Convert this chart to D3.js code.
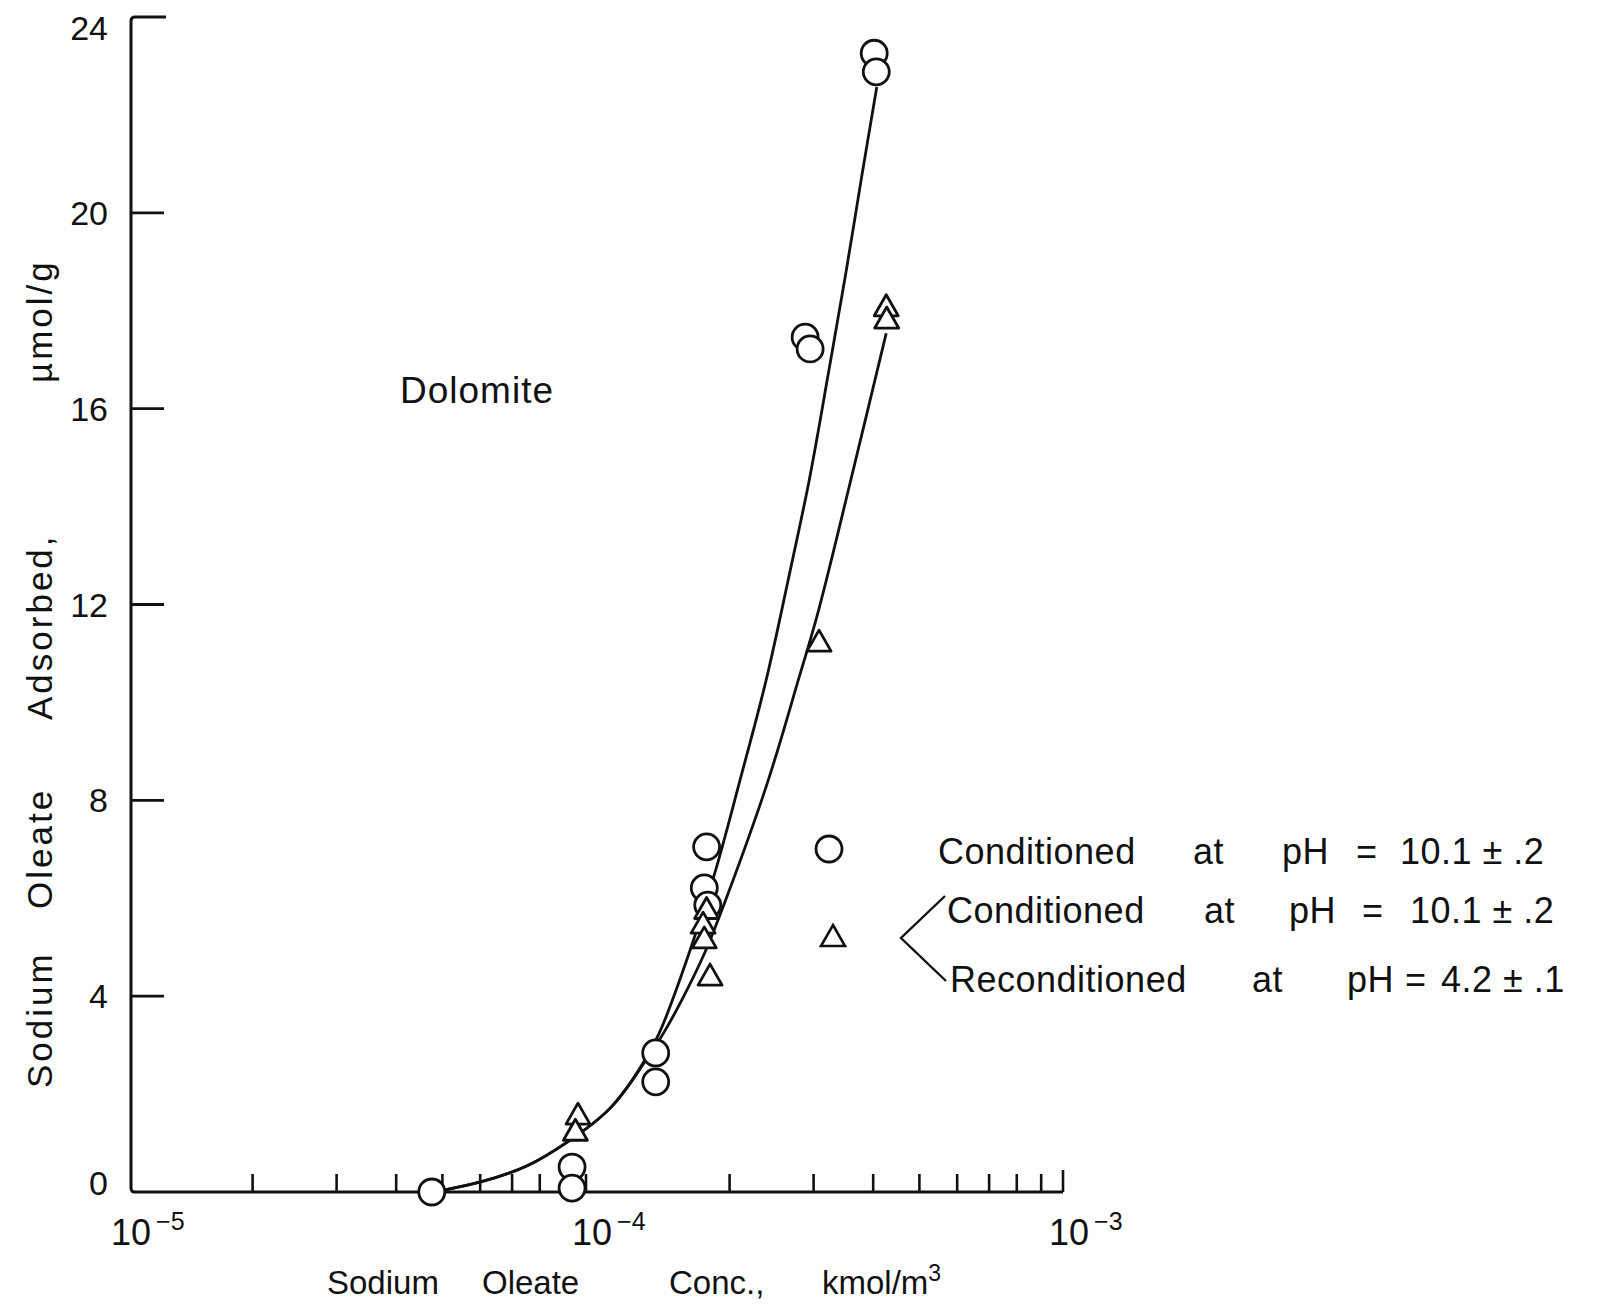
<!DOCTYPE html>
<html>
<head>
<meta charset="utf-8">
<script src="https://cdn.jsdelivr.net/npm/d3@7"></script>
<style>
  body { margin: 0; background: #fff; }
  text { font-family: "Liberation Sans", Arial, sans-serif; fill: #111; }
</style>
</head>
<body>
<script>
// sodium oleate adsorption on dolomite

// circles: conditioned at pH 10.1
var circleConc = [4.75e-5, 9.35e-5, 9.35e-5, 1.40e-4, 1.40e-4, 1.79e-4, 1.77e-4, 1.80e-4, 2.88e-4, 2.95e-4, 4.02e-4, 4.06e-4];
var circleAds  = [0, 0.51, 0.08, 2.84, 2.25, 7.05, 6.21, 5.86, 17.46, 17.22, 23.26, 22.88];

// triangles: conditioned 10.1 then reconditioned 4.2
var triConc = [9.62e-5, 9.5e-5, 1.79e-4, 1.76e-4, 1.77e-4, 1.82e-4, 3.08e-4, 4.26e-4, 4.27e-4];
var triAds  = [1.55, 1.22, 5.75, 5.45, 5.15, 4.39, 11.21, 18.06, 17.81];

// hand drawn fit lines
var fitCircleConc = [4.8e-5, 6.0e-5, 7.6e-5, 9.1e-5, 1.14e-4, 1.32e-4, 1.43e-4, 1.51e-4, 1.65e-4, 1.88e-4, 2.1e-4, 2.4e-4, 2.65e-4, 2.95e-4, 3.2e-4, 3.52e-4, 3.75e-4, 4.07e-4];
var fitCircleAds  = [0, 0.18, 0.51, 1.0, 1.67, 2.63, 3.25, 3.85, 4.9, 6.58, 8.41, 10.46, 12.5, 14.54, 16.58, 18.83, 20.53, 22.57];
var fitTriConc = [4.8e-5, 6.0e-5, 7.6e-5, 9.1e-5, 1.14e-4, 1.32e-4, 1.45e-4, 1.59e-4, 1.78e-4, 1.94e-4, 2.43e-4, 2.78e-4, 3.05e-4, 3.52e-4, 3.88e-4, 4.26e-4];
var fitTriAds  = [0, 0.18, 0.51, 1.0, 1.67, 2.63, 3.2, 3.92, 4.88, 5.82, 8.41, 10.46, 11.68, 14.2, 15.9, 17.54];

var yTicks = [0, 4, 8, 12, 16, 20, 24];
var xMajor = [1e-5, 1e-4, 1e-3];
var xMajorExp = ["-5", "-4", "-3"];

var xTitleWords = ["Sodium", "Oleate", "Conc.,", "kmol/m"];
var yTitleWords = ["Sodium", "Oleate", "Adsorbed,", "\u00b5mol/g"];
var legendLines = [
  ["Conditioned", "at", "pH", "=", "10.1 \u00b1 .2"],
  ["Conditioned", "at", "pH", "=", "10.1 \u00b1 .2"],
  ["Reconditioned", "at", "pH", "=", "4.2 \u00b1 .1"]
];

var W = 1602, H = 1306;
var svg = d3.select("body").append("svg")
  .attr("width", W).attr("height", H);

var x = d3.scaleLog().domain([1e-5, 1e-3]).range([109, 1063]);
var y = d3.scaleLinear().domain([0, 24]).range([1192, 17]);
var axisX = 131;
var ink = "#111";

// axes
svg.append("path")
  .attr("d", "M" + (axisX + 35) + "," + y(24) + "H" + (axisX + 4) + "Q" + axisX + "," + y(24) + " " + axisX + "," + (y(24) + 4)
    + "V" + (y(0) - 4) + "Q" + axisX + "," + y(0) + " " + (axisX + 4) + "," + y(0) + "H" + x(1e-3))
  .attr("fill", "none").attr("stroke", ink).attr("stroke-width", 3);

svg.selectAll(".ytick").data(yTicks.filter(function(d){ return d > 0 && d < 24; }))
  .enter().append("line")
  .attr("x1", axisX).attr("x2", axisX + 33)
  .attr("y1", function(d){ return y(d); }).attr("y2", function(d){ return y(d); })
  .attr("stroke", ink).attr("stroke-width", 2.8);

svg.selectAll(".ylab").data(yTicks)
  .enter().append("text")
  .attr("x", 108)
  .attr("y", function(d){ return y(d) + 12 + (d === 24 ? 11 : 0) + (d === 0 ? -9 : 0); })
  .attr("text-anchor", "end")
  .style("font-size", "34px")
  .text(function(d){ return d; });

var xt = x.ticks().filter(function(d){ return x(d) > axisX + 5; });
svg.selectAll(".xtick").data(xt)
  .enter().append("line")
  .attr("x1", function(d){ return x(d); }).attr("x2", function(d){ return x(d); })
  .attr("y1", y(0)).attr("y2", function(d){ return y(0) - (d > 9.9e-4 ? 22 : 18); })
  .attr("stroke", ink).attr("stroke-width", 2.6);

var xl = svg.selectAll(".xlab").data(xMajor)
  .enter().append("text")
  .attr("x", function(d){ return Math.max(x(d) - 14, axisX - 20); })
  .attr("y", 1245)
  .style("font-size", "36px");
xl.append("tspan").text("10");
xl.append("tspan").attr("dy", -15).style("font-size", "25px")
  .text(function(d, i){ return "\u2009" + xMajorExp[i].replace("-", "\u2212"); });

// titles
var xPos = [327, 482, 669, 822];
var xtl = svg.append("text").attr("y", 1294).style("font-size", "33px");
xTitleWords.forEach(function(w, i){
  xtl.append("tspan").attr("x", xPos[i]).text(w);
});
xtl.append("tspan").attr("dy", -13).style("font-size", "23px").text("3");

var yPos = [1088, 909, 720, 383];
var ytl = svg.append("g").attr("transform", "translate(52,0) rotate(-90)")
  .append("text").style("font-size", "35px").style("letter-spacing", "3px");
yTitleWords.forEach(function(w, i){
  ytl.append("tspan").attr("x", -yPos[i]).text(w);
});

svg.append("text").attr("x", 400).attr("y", 403)
  .style("font-size", "37px").style("letter-spacing", "1px").text("Dolomite");

// fit lines
var line = d3.line()
  .x(function(d){ return x(d[0]); })
  .y(function(d){ return y(d[1]); })
  .curve(d3.curveBasis);

svg.append("path").datum(d3.zip(fitCircleConc, fitCircleAds))
  .attr("d", line).attr("fill", "none").attr("stroke", ink).attr("stroke-width", 2.8);
svg.append("path").datum(d3.zip(fitTriConc, fitTriAds))
  .attr("d", line).attr("fill", "none").attr("stroke", ink).attr("stroke-width", 2.8);

// markers
var triPath = "M0,-13L12,8L-12,8Z";

svg.selectAll(".circ").data(d3.zip(circleConc, circleAds))
  .enter().append("circle")
  .attr("cx", function(d){ return x(d[0]); })
  .attr("cy", function(d){ return y(d[1]); })
  .attr("r", 13)
  .attr("fill", "#fff").attr("stroke", ink).attr("stroke-width", 2.8);

svg.selectAll(".tri").data(d3.zip(triConc, triAds))
  .enter().append("path")
  .attr("d", triPath)
  .attr("transform", function(d){ return "translate(" + x(d[0]) + "," + y(d[1]) + ")"; })
  .attr("fill", "#fff").attr("stroke", ink).attr("stroke-width", 2.8).attr("stroke-linejoin", "round");

// legend
svg.append("circle").attr("cx", 829).attr("cy", 849).attr("r", 13)
  .attr("fill", "#fff").attr("stroke", ink).attr("stroke-width", 2.8);
svg.append("path").attr("d", triPath).attr("transform", "translate(833,938)")
  .attr("fill", "#fff").attr("stroke", ink).attr("stroke-width", 2.6);
svg.append("path").attr("d", "M945,896L901,938L946,981")
  .attr("fill", "none").attr("stroke", ink).attr("stroke-width", 2.4);

var legX = [
  [938, 1193, 1282, 1356, 1400],
  [947, 1204, 1289, 1362, 1410],
  [950, 1252, 1347, 1405, 1441]
];
var legY = [864, 923, 992];
legendLines.forEach(function(words, r){
  var t = svg.append("text").attr("y", legY[r]).style("font-size", "36px").style("letter-spacing", "0.5px");
  words.forEach(function(w, i){
    t.append("tspan").attr("x", legX[r][i]).text(w);
  });
});
</script>
</body>
</html>
